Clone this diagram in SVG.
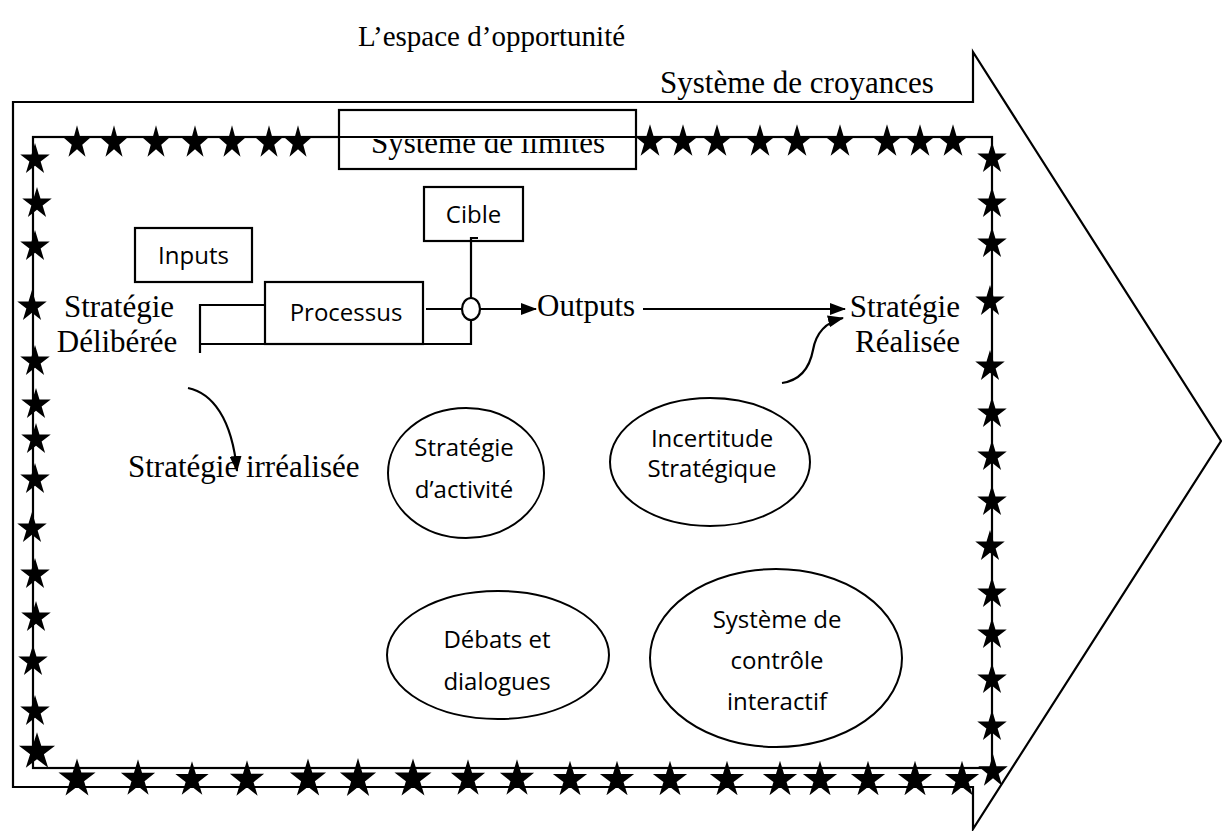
<svg xmlns="http://www.w3.org/2000/svg" xmlns:xlink="http://www.w3.org/1999/xlink" width="1222" height="831" viewBox="0 0 1222 831">
<style>
.ln{fill:none;stroke:#000;stroke-width:2.2}
.bx{fill:#fff;stroke:#000;stroke-width:2.2}
.el{fill:#fff;stroke:#000;stroke-width:2}
.serif{font-family:"Liberation Serif","Times New Roman",serif;font-size:31px;fill:#000}
.sans{font-family:"Open Sans","Noto Sans",sans-serif;font-size:24px;fill:#000}
.st{fill:#000}
</style>
<defs>
<path id="star" class="st" d="M0,-9.05 L2.245,-2.14 L9.511,-2.14 L3.633,2.13 L5.878,9.04 L0,4.77 L-5.878,9.04 L-3.633,2.13 L-9.511,-2.14 L-2.245,-2.14 Z"/>
<marker id="ah" markerUnits="userSpaceOnUse" markerWidth="16" markerHeight="12" refX="15" refY="6" orient="auto">
<path d="M0,0 L16,6 L0,12 Z" fill="#000"/>
</marker>
<clipPath id="limclip"><rect x="339" y="139" width="297" height="30"/></clipPath>
</defs>
<rect width="1222" height="831" fill="#fff"/>

<g id="title"><text class="serif" x="358" y="46" style="font-size:29px">L’espace d’opportunité</text></g>

<g id="croyances">
<path class="ln" d="M13,102 H973 V52 L1221,441 L973,829 V787 H13 Z"/>
<text class="serif" x="660" y="93">Système de croyances</text>
</g>

<g id="limites">
<rect class="ln" x="33" y="137" width="959" height="631"/>
<rect class="bx" x="339" y="110" width="297" height="59"/>
<line class="ln" x1="339" y1="137" x2="636" y2="137"/>
<text class="serif" x="488" y="153" text-anchor="middle" clip-path="url(#limclip)">Système de limites</text>
</g>

<g id="stars">
<g id="stars-top">
<use href="#star" transform="translate(77,141) scale(1.45,1.75)"/>
<use href="#star" transform="translate(114,141) scale(1.45,1.75)"/>
<use href="#star" transform="translate(156,141) scale(1.45,1.75)"/>
<use href="#star" transform="translate(195,141) scale(1.45,1.75)"/>
<use href="#star" transform="translate(232,141) scale(1.45,1.75)"/>
<use href="#star" transform="translate(269,141) scale(1.45,1.75)"/>
<use href="#star" transform="translate(298,141) scale(1.45,1.75)"/>
<use href="#star" transform="translate(650,140) scale(1.6,1.75)"/>
<use href="#star" transform="translate(683,140) scale(1.6,1.75)"/>
<use href="#star" transform="translate(717,140) scale(1.6,1.75)"/>
<use href="#star" transform="translate(760,140) scale(1.6,1.75)"/>
<use href="#star" transform="translate(797,140) scale(1.6,1.75)"/>
<use href="#star" transform="translate(840,140) scale(1.6,1.75)"/>
<use href="#star" transform="translate(887,140) scale(1.6,1.75)"/>
<use href="#star" transform="translate(920,140) scale(1.6,1.75)"/>
<use href="#star" transform="translate(953,140) scale(1.6,1.75)"/>
</g>
<g id="stars-left">
<use href="#star" transform="translate(35,158) scale(1.55,1.65)"/>
<use href="#star" transform="translate(37,202) scale(1.55,1.65)"/>
<use href="#star" transform="translate(35,245) scale(1.55,1.65)"/>
<use href="#star" transform="translate(32,305) scale(1.55,1.65)"/>
<use href="#star" transform="translate(35,360) scale(1.55,1.65)"/>
<use href="#star" transform="translate(36,403) scale(1.55,1.65)"/>
<use href="#star" transform="translate(36,438) scale(1.55,1.65)"/>
<use href="#star" transform="translate(35,478) scale(1.55,1.65)"/>
<use href="#star" transform="translate(32,527) scale(1.55,1.65)"/>
<use href="#star" transform="translate(35,573) scale(1.55,1.65)"/>
<use href="#star" transform="translate(36,616) scale(1.55,1.65)"/>
<use href="#star" transform="translate(33,660) scale(1.55,1.65)"/>
<use href="#star" transform="translate(35,710) scale(1.55,1.65)"/>
<use href="#star" transform="translate(37,750) scale(1.9,1.95)"/>
</g>
<g id="stars-right">
<use href="#star" transform="translate(992,157) scale(1.55,1.65)"/>
<use href="#star" transform="translate(992,202) scale(1.55,1.65)"/>
<use href="#star" transform="translate(992,242) scale(1.55,1.65)"/>
<use href="#star" transform="translate(990,300) scale(1.55,1.65)"/>
<use href="#star" transform="translate(990,365) scale(1.55,1.65)"/>
<use href="#star" transform="translate(992,412) scale(1.55,1.65)"/>
<use href="#star" transform="translate(992,455) scale(1.55,1.65)"/>
<use href="#star" transform="translate(992,500) scale(1.55,1.65)"/>
<use href="#star" transform="translate(990,545) scale(1.55,1.65)"/>
<use href="#star" transform="translate(992,592) scale(1.55,1.65)"/>
<use href="#star" transform="translate(992,633) scale(1.55,1.65)"/>
<use href="#star" transform="translate(992,678) scale(1.55,1.65)"/>
<use href="#star" transform="translate(992,725) scale(1.55,1.65)"/>
<use href="#star" transform="translate(993,770) scale(1.55,1.75)"/>
</g>
<g id="stars-bottom">
<use href="#star" transform="translate(77,777) scale(1.95,2.05)"/>
<use href="#star" transform="translate(138,777) scale(1.8,1.95)"/>
<use href="#star" transform="translate(192,778) scale(1.75,1.85)"/>
<use href="#star" transform="translate(247,778) scale(1.8,1.95)"/>
<use href="#star" transform="translate(308,777) scale(1.9,2.05)"/>
<use href="#star" transform="translate(358,777) scale(1.9,2.1)"/>
<use href="#star" transform="translate(413,777) scale(1.95,2.05)"/>
<use href="#star" transform="translate(468,777) scale(1.8,1.95)"/>
<use href="#star" transform="translate(517,777) scale(1.8,1.95)"/>
<use href="#star" transform="translate(570,778) scale(1.8,1.9)"/>
<use href="#star" transform="translate(617,778) scale(1.8,1.9)"/>
<use href="#star" transform="translate(670,778) scale(1.8,1.9)"/>
<use href="#star" transform="translate(727,778) scale(1.8,1.9)"/>
<use href="#star" transform="translate(780,778) scale(1.8,1.9)"/>
<use href="#star" transform="translate(820,778) scale(1.8,1.9)"/>
<use href="#star" transform="translate(868,778) scale(1.8,1.9)"/>
<use href="#star" transform="translate(915,778) scale(1.8,1.9)"/>
<use href="#star" transform="translate(962,778) scale(1.8,1.9)"/>
</g>
</g>

<g id="inputs">
<rect class="bx" x="135" y="228" width="117" height="54"/>
<text class="sans" x="193.5" y="264" text-anchor="middle">Inputs</text>
</g>
<g id="cible">
<rect class="bx" x="424" y="187" width="99" height="54"/>
<text class="sans" x="473.5" y="223" text-anchor="middle">Cible</text>
</g>
<g id="processus">
<rect class="bx" x="265" y="282" width="158" height="62"/>
<text class="sans" x="346" y="321" text-anchor="middle">Processus</text>
</g>
<g id="deliberee">
<text class="serif" x="119" y="317" text-anchor="middle">Stratégie</text>
<text class="serif" x="117" y="352" text-anchor="middle">Délibérée</text>
</g>
<g id="outputs"><text class="serif" x="537" y="316">Outputs</text></g>
<g id="realisee">
<text class="serif" x="960" y="317" text-anchor="end">Stratégie</text>
<text class="serif" x="960" y="352" text-anchor="end">Réalisée</text>
</g>
<g id="irrealisee"><text class="serif" x="128" y="477">Stratégie irréalisée</text></g>

<g id="activite">
<ellipse class="el" cx="466" cy="473" rx="78" ry="65"/>
<text class="sans" x="464" y="456" text-anchor="middle">Stratégie</text>
<text class="sans" x="464" y="498" text-anchor="middle">d’activité</text>
</g>
<g id="incertitude">
<ellipse class="el" cx="710" cy="462" rx="100" ry="64"/>
<text class="sans" x="712" y="447" text-anchor="middle">Incertitude</text>
<text class="sans" x="712" y="477" text-anchor="middle">Stratégique</text>
</g>
<g id="debats">
<ellipse class="el" cx="498" cy="655" rx="111" ry="64"/>
<text class="sans" x="497" y="648" text-anchor="middle">Débats et</text>
<text class="sans" x="497" y="690" text-anchor="middle">dialogues</text>
</g>
<g id="controle">
<ellipse class="el" cx="776" cy="658" rx="126" ry="89"/>
<text class="sans" x="777" y="628" text-anchor="middle">Système de</text>
<text class="sans" x="777" y="669" text-anchor="middle">contrôle</text>
<text class="sans" x="777" y="710" text-anchor="middle">interactif</text>
</g>

<g id="connectors">
<path class="ln" d="M265,305 H200 V353"/>
<path class="ln" d="M200,344 H471 V320"/>
<path class="ln" d="M426,309 H462"/>
<path class="ln" d="M471,298 V238 H478"/>
<ellipse class="ln" cx="471" cy="309" rx="9" ry="11"/>
<path class="ln" d="M480,309 H536" marker-end="url(#ah)"/>
<path class="ln" d="M643,309 H845" marker-end="url(#ah)"/>
<path class="ln" d="M188,388 C212,393 232,418 237,471" marker-end="url(#ah)"/>
<path class="ln" d="M782,383 C802,380 810,366 813,350 C816,333 826,322 843,318" marker-end="url(#ah)"/>
</g>
</svg>
